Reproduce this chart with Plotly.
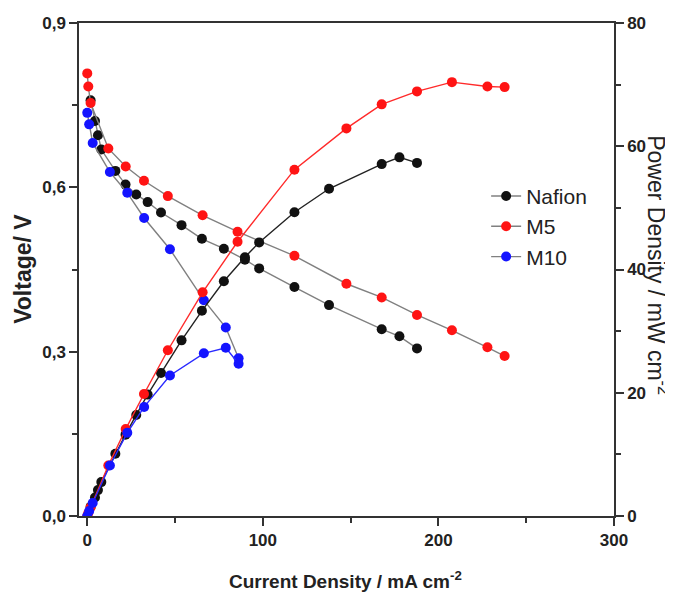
import plotly.graph_objects as go

# current density (mA cm-2), voltage (V), power density (mW cm-2)
nafion_i = [1.9, 4.4, 6.1, 8, 16, 21.8, 27.9, 34.4, 42, 53.7, 65.3, 77.8, 89.8, 97.9, 118, 137.7, 167.7, 177.8, 187.8]
nafion_v = [0.759, 0.721, 0.695, 0.669, 0.630, 0.605, 0.587, 0.573, 0.554, 0.531, 0.506, 0.488, 0.468, 0.452, 0.418, 0.385, 0.341, 0.328, 0.306]
nafion_p = [1.5, 3.0, 4.2, 5.5, 10.1, 13.2, 16.4, 19.7, 23.2, 28.5, 33.3, 38.1, 42.0, 44.4, 49.3, 53.1, 57.1, 58.2, 57.3]

m5_i = [0, 0.6, 1.9, 12, 21.9, 32.3, 45.9, 65.7, 85.6, 118, 147.6, 167.7, 187.8, 207.7, 227.9, 237.7]
m5_v = [0.808, 0.784, 0.754, 0.671, 0.638, 0.612, 0.584, 0.549, 0.519, 0.475, 0.424, 0.399, 0.367, 0.339, 0.308, 0.292]
m5_p = [0, 0.5, 1.4, 8.2, 14.1, 19.8, 26.9, 36.3, 44.5, 56.2, 62.9, 66.8, 68.9, 70.4, 69.7, 69.6]

m10_i = [0, 1.1, 3.1, 12.9, 22.8, 32.4, 47.1, 66.4, 78.9, 86.2]
m10_v = [0.736, 0.715, 0.681, 0.628, 0.590, 0.544, 0.487, 0.394, 0.344, 0.288]
m10_p = [0, 0.8, 2.1, 8.2, 13.5, 17.7, 22.8, 26.4, 27.3, 24.7]

series = [
    ("Nafion", nafion_i, nafion_v, nafion_p, "#111111", "#222222"),
    ("M5", m5_i, m5_v, m5_p, "#ff1414", "#ff2a2a"),
    ("M10", m10_i, m10_v, m10_p, "#1414ff", "#2a2aff"),
]

FONT = "Liberation Sans"
grey = "#808080"
ink = "#222222"

fig = go.Figure()
for name, i, v, p, col, lcol in series:
    fig.add_trace(go.Scatter(x=i, y=v, mode="lines+markers", name=name, legendgroup=name,
                             line=dict(color=grey, width=1.4),
                             marker=dict(color=col, size=10, line=dict(width=0))))
    fig.add_trace(go.Scatter(x=i, y=p, mode="lines+markers", name=name, legendgroup=name,
                             yaxis="y2", showlegend=False,
                             line=dict(color=lcol, width=1.4),
                             marker=dict(color=col, size=10, line=dict(width=0))))

axis_common = dict(showgrid=False, zeroline=False, showline=True, linecolor="#333333",
                   linewidth=1.5, ticks="outside", tickcolor="#333333", tickwidth=1.5,
                   ticklen=8, automargin=False,
                   tickfont=dict(family=FONT, size=17, color=ink, weight="bold"))
minor_common = dict(ticks="outside", ticklen=5, tickcolor="#333333", tickwidth=1.5)

fig.update_layout(
    width=665, height=586,
    margin=dict(l=71, r=59, t=15, b=78, autoexpand=False),
    paper_bgcolor="white", plot_bgcolor="white",
    separators=",.",
    font=dict(family=FONT, color=ink),
    xaxis=dict(range=[-4.7, 300], tickvals=[0, 100, 200, 300], mirror=True,
               minor=dict(tickvals=[50, 150, 250], **minor_common), **axis_common),
    yaxis=dict(range=[0, 0.9], tickvals=[0, 0.3, 0.6, 0.9], tickformat=".1f",
               minor=dict(tickvals=[0.15, 0.45, 0.75], **minor_common), **axis_common),
    yaxis2=dict(range=[0, 80], tickvals=[0, 20, 40, 60, 80], overlaying="y", side="right",
                minor=dict(tickvals=[10, 30, 50, 70], **minor_common), **axis_common),
    legend=dict(x=0.761, y=0.69, xanchor="left", yanchor="top",
                font=dict(family=FONT, size=21, color=ink),
                bgcolor="rgba(0,0,0,0)", tracegroupgap=0),
    showlegend=True,
)

fig.add_annotation(text="<b>Current Density / mA cm<sup>-2</sup></b>",
                   xref="paper", yref="paper", x=0.498, y=-0.13, showarrow=False,
                   xanchor="center", yanchor="middle",
                   font=dict(family=FONT, size=19, color=ink))
fig.add_annotation(text="<b>Voltage/ V</b>", textangle=-90,
                   xref="paper", yref="paper", x=-0.105, y=0.501, showarrow=False,
                   xanchor="center", yanchor="middle",
                   font=dict(family=FONT, size=23, color=ink))
fig.add_annotation(text="Power Density / mW cm<sup>-2</sup>", textangle=90,
                   xref="paper", yref="paper", x=1.082, y=0.509, showarrow=False,
                   xanchor="center", yanchor="middle",
                   font=dict(family=FONT, size=23, color=ink))

fig.write_html("out.html")
